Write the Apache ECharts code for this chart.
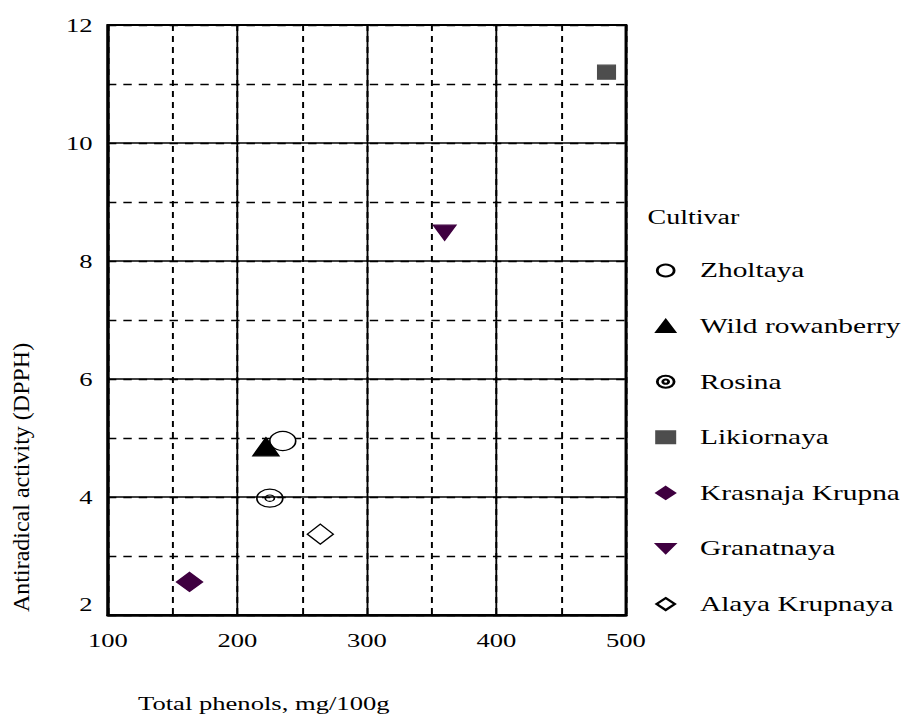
<!DOCTYPE html>
<html>
<head>
<meta charset="utf-8">
<script src="https://cdn.jsdelivr.net/npm/echarts@6/dist/echarts.min.js"></script>
<style>
  html, body { margin: 0; padding: 0; background: #fff; overflow: hidden; }
  /* the reference is a horizontally stretched picture, so draw narrow and stretch */
  #chart { width: 650px; height: 715px; transform: scaleX(1.4); transform-origin: 0 0; }
</style>
</head>
<body>
<div id="chart"></div>
<script>
// values
const cultivars = ['Zholtaya', 'Wild rowanberry', 'Rosina', 'Likiornaya', 'Krasnaja Krupna', 'Granatnaya', 'Alaya Krupnaya'];
const phenols = [235, 222, 225, 485, 163, 360, 264];
const dpph = [4.95, 4.85, 3.98, 11.2, 2.56, 8.48, 3.37];

const font = "'Liberation Serif', 'DejaVu Serif', serif";
const ring = 'path://M0,-10A10,10 0 1,1 0,10A10,10 0 1,1 0,-10Z M0,-3.5A3.5,3.5 0 1,1 0,3.5A3.5,3.5 0 1,1 0,-3.5Z';
const downTri = 'path://M0,0L10,0L5,7Z';

// symbol / colour per cultivar (widths are before the 1.4 stretch)
const looks = [
    { symbol: 'circle', size: [18.5, 19], fill: '#fff', stroke: '#000' },
    { symbol: 'triangle', size: [18.5, 18], fill: '#000', stroke: '#000' },
    { symbol: ring, size: [18.5, 18], fill: 'none', stroke: '#000' },
    { symbol: 'rect', size: [12.5, 14], fill: '#4d4d4d', stroke: '#4d4d4d' },
    { symbol: 'diamond', size: [18.5, 19], fill: '#3f0040', stroke: '#3f0040' },
    { symbol: downTri, size: [16, 15], fill: '#3f0040', stroke: '#3f0040' },
    { symbol: 'diamond', size: [18.5, 20], fill: '#fff', stroke: '#000' }
];

const chart = echarts.init(document.getElementById('chart'), null, { renderer: 'svg' });

const series = cultivars.map((name, i) => ({
    name: name,
    type: 'scatter',
    xAxisIndex: 0,
    yAxisIndex: 0,
    symbol: looks[i].symbol,
    symbolSize: looks[i].size,
    itemStyle: { color: looks[i].fill, borderColor: looks[i].stroke, borderWidth: 1.2, opacity: 1 },
    data: [[phenols[i], dpph[i]]],
    z: 5
}));

const option = {
    animation: false,
    textStyle: { fontFamily: font },
    grid: { left: 77.1, right: 202.9, top: 25, bottom: 100, show: true, borderColor: '#000', borderWidth: 2 },
    title: {
        text: 'Cultivar', left: 457.5, top: 202,
        textStyle: { fontFamily: font, fontSize: 20, fontWeight: 'normal', color: '#000' }
    },
    legend: {
        orient: 'vertical', left: 462, top: 255,
        itemWidth: 13, itemHeight: 12, itemGap: 34.6,
        data: cultivars,
        textStyle: { fontFamily: font, fontSize: 21, lineHeight: 20, color: '#000', padding: [0, 0, 0, 13] }
    },
    xAxis: [{
        type: 'value', min: 100, max: 500, interval: 100,
        axisLine: { show: true, lineStyle: { color: '#000', width: 2.5 } },
        axisTick: { show: false },
        axisLabel: { color: '#000', fontSize: 19, fontFamily: font, margin: 16 },
        splitLine: { show: true, lineStyle: { color: '#000', width: 1.3 } },
        z: 2
    }, {
        type: 'value', min: 100, max: 500, interval: 50, position: 'bottom',
        axisLine: { show: false }, axisTick: { show: false }, axisLabel: { show: false },
        splitLine: { show: true, lineStyle: { color: '#000', width: 1.4, type: [6, 5] } },
        z: 1
    }],
    yAxis: [{
        type: 'value', min: 2, max: 12, interval: 2,
        axisLine: { show: true, lineStyle: { color: '#000', width: 2 } },
        axisTick: { show: false },
        axisLabel: {
            color: '#000', fontSize: 19, fontFamily: font, margin: 11,
            // the lowest label sits a little higher in the reference
            formatter: v => (v === 2 ? '{low|' + v + '}' : '' + v),
            rich: { low: { fontSize: 19, fontFamily: font, color: '#000', padding: [0, 0, 22, 0] } }
        },
        splitLine: { show: true, lineStyle: { color: '#000', width: 1.5 } },
        z: 2
    }, {
        type: 'value', min: 2, max: 12, interval: 1, position: 'left',
        axisLine: { show: false }, axisTick: { show: false }, axisLabel: { show: false },
        splitLine: { show: true, lineStyle: { color: '#000', width: 1.3, type: [6, 5] } },
        z: 1
    }],
    graphic: [{
        type: 'text', left: 98.6, top: 694,
        style: { text: 'Total phenols, mg/100g', font: '19px ' + font, fill: '#000' }
    }, {
        type: 'text', x: 15, y: 612, rotation: Math.PI / 2, scaleY: 0.714,
        style: { text: 'Antiradical activity (DPPH)', font: '24px ' + font, fill: '#000', align: 'left', verticalAlign: 'middle' }
    }],
    series: series
};

chart.setOption(option);
</script>
</body>
</html>
